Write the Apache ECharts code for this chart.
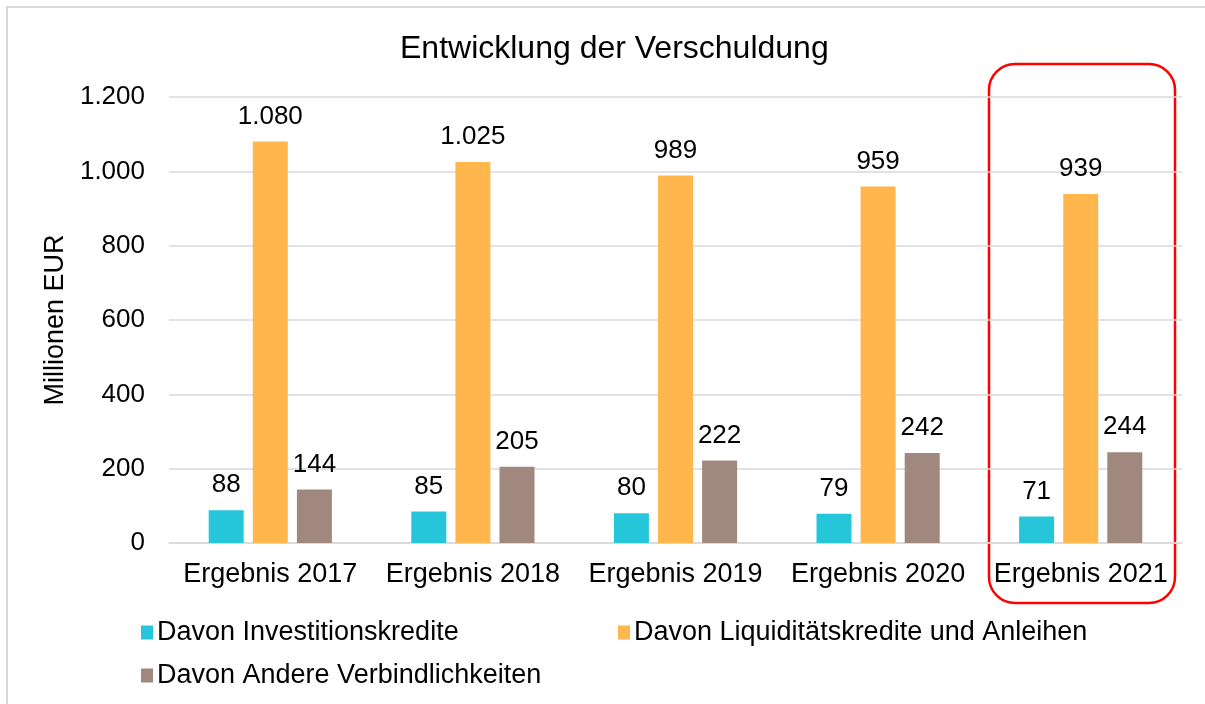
<!DOCTYPE html>
<html>
<head>
<meta charset="utf-8">
<script src="https://cdn.jsdelivr.net/npm/echarts@6/dist/echarts.min.js"></script>
<style>
  html, body { margin: 0; padding: 0; background: #fff; }
  #chart { width: 1205px; height: 704px; }
</style>
</head>
<body>
<div id="chart"></div>
<script>
const categories = ['Ergebnis 2017', 'Ergebnis 2018', 'Ergebnis 2019', 'Ergebnis 2020', 'Ergebnis 2021']
const seriesNames = ['Davon Investitionskredite', 'Davon Liquiditätskredite und Anleihen', 'Davon Andere Verbindlichkeiten']
const investitionskredite = [88, 85, 80, 79, 71]
const liquiditaetskredite = [1080, 1025, 989, 959, 939]
const andereVerbindlichkeiten = [144, 205, 222, 242, 244]
const seriesColors = ['#26c6da', '#ffb74d', '#a1887f']

const font = 'Liberation Sans, Arial, sans-serif'
const fmt = v => v.toLocaleString('de-DE')

const chart = echarts.init(document.getElementById('chart'))

function barSeries(name, data, color) {
  return {
    name,
    type: 'bar',
    data,
    barWidth: 35,
    barGap: '26%',
    itemStyle: { color },
    label: {
      show: true,
      position: 'top',
      distance: 12,
      color: '#000',
      fontFamily: font,
      fontSize: 26,
      formatter: p => fmt(p.value)
    }
  }
}

function legendItem(name, left, top) {
  return {
    data: [name],
    left,
    top,
    itemWidth: 12,
    itemHeight: 14,
    icon: 'rect',
    selectedMode: false,
    textStyle: { color: '#000', fontFamily: font, fontSize: 27, padding: [0, 0, 0, -1] }
  }
}

chart.setOption({
  backgroundColor: '#fff',
  animation: false,
  title: {
    text: 'Entwicklung der Verschuldung',
    left: 395,
    top: 28,
    textStyle: { color: '#000', fontFamily: font, fontSize: 32, fontWeight: 'normal' }
  },
  legend: [
    legendItem(seriesNames[0], 136, 614),
    legendItem(seriesNames[1], 613, 614),
    legendItem(seriesNames[2], 136, 657)
  ],
  grid: { left: 169, right: 23, top: 97, bottom: 161 },
  xAxis: {
    type: 'category',
    data: categories,
    axisLine: { lineStyle: { color: '#d9d9d9', width: 1.5 } },
    axisTick: { show: false },
    axisLabel: { color: '#000', fontFamily: font, fontSize: 27, margin: 18, interval: 0 }
  },
  yAxis: {
    type: 'value',
    min: 0,
    max: 1200,
    interval: 200,
    name: 'Millionen EUR',
    nameLocation: 'middle',
    nameGap: 97,
    nameTextStyle: { color: '#000', fontFamily: font, fontSize: 27 },
    axisLine: { show: false },
    axisTick: { show: false },
    splitLine: { lineStyle: { color: '#d9d9d9', width: 1.5 } },
    axisLabel: { color: '#000', fontFamily: font, fontSize: 26, margin: 24, formatter: v => fmt(v) }
  },
  series: [
    barSeries(seriesNames[0], investitionskredite, seriesColors[0]),
    barSeries(seriesNames[1], liquiditaetskredite, seriesColors[1]),
    barSeries(seriesNames[2], andereVerbindlichkeiten, seriesColors[2])
  ],
  graphic: [
    {
      type: 'polyline',
      shape: { points: [[7, 704], [7, 7], [1205, 7]] },
      style: { stroke: '#d9d9d9', lineWidth: 2, fill: null },
      silent: true
    },
    {
      type: 'rect',
      shape: { x: 989, y: 64, width: 186, height: 539, r: 26 },
      style: { stroke: '#ff0000', lineWidth: 2.5, fill: null },
      silent: true
    }
  ]
})
</script>
</body>
</html>
